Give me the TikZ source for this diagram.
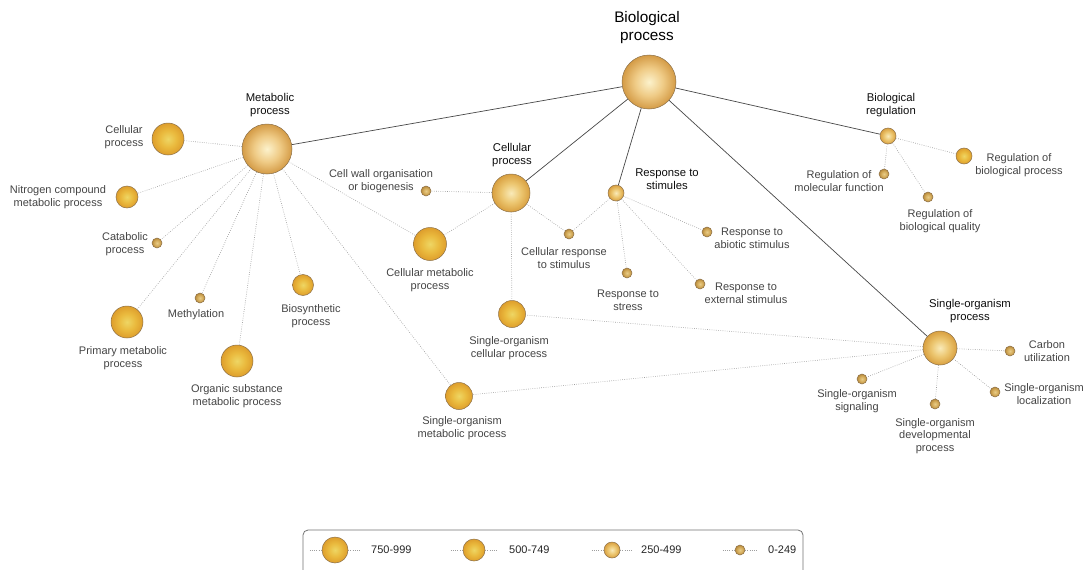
\documentclass[tikz,border=0pt]{standalone}
\usepackage{fontspec}
\setmainfont{Liberation Sans}
\definecolor{hubin}{HTML}{FCF2CC}
\definecolor{hubmid}{HTML}{EFCB86}
\definecolor{hubout}{HTML}{D49B46}
\definecolor{goldin}{HTML}{EED664}
\definecolor{goldmid}{HTML}{EABA3E}
\definecolor{goldout}{HTML}{DE9E2C}
\definecolor{palein}{HTML}{F9EAB8}
\definecolor{palemid}{HTML}{ECC670}
\definecolor{paleout}{HTML}{D9A040}
\definecolor{smallin}{HTML}{E8CC88}
\definecolor{smallmid}{HTML}{D6AE5E}
\definecolor{smallout}{HTML}{B88A3A}
\definecolor{rim}{HTML}{8C7048}
\definecolor{leaftext}{HTML}{454545}
% stops: the node outline sits at 25bp
\pgfdeclareradialshading{orbhub}{\pgfpoint{0bp}{0bp}}{color(0bp)=(hubin); color(13bp)=(hubmid); color(25bp)=(hubout); color(50bp)=(hubout)}
\pgfdeclareradialshading{orbgold}{\pgfpoint{0bp}{0bp}}{color(0bp)=(goldin); color(13bp)=(goldmid); color(25bp)=(goldout); color(50bp)=(goldout)}
\pgfdeclareradialshading{orbpale}{\pgfpoint{0bp}{0bp}}{color(0bp)=(palein); color(13bp)=(palemid); color(25bp)=(paleout); color(50bp)=(paleout)}
\pgfdeclareradialshading{orbsmall}{\pgfpoint{0bp}{0bp}}{color(0bp)=(smallin); color(13bp)=(smallmid); color(25bp)=(smallout); color(50bp)=(smallout)}
\tikzset{
  orb/.style={circle, inner sep=0pt, draw=rim, line width=0.5pt, minimum size=#1},
  hubball/.style={orb=#1, shading=orbhub},
  goldball/.style={orb=#1, shading=orbgold},
  paleball/.style={orb=#1, shading=orbpale},
  smallball/.style={orb=10pt, shading=orbsmall},
  mainlink/.style={draw=black!72, line width=0.7pt},
  sublink/.style={draw=black!38, line width=0.6pt, dash pattern=on 0.7pt off 1.5pt},
  leaflab/.style={align=center, text=leaftext, font=\fontsize{11}{12.8}\selectfont, inner sep=0pt},
  hublab/.style={align=center, text=black!95, font=\fontsize{11.3}{12.8}\selectfont, inner sep=0pt},
  toplab/.style={align=center, text=black, font=\fontsize{15.3}{18}\selectfont, inner sep=0pt},
  keylab/.style={anchor=west, text=black!85, font=\fontsize{11}{12.8}\selectfont, inner sep=0pt},
}
\begin{document}
\begin{tikzpicture}[x=1pt,y=-1pt]
\useasboundingbox[fill=white] (0,0) rectangle (1087,570);

% ---- hubs
\node[hubball=54pt]  (bp)   at (649,82)  {};
\node[hubball=50pt]  (met)  at (267,149) {};
\node[paleball=38pt] (cel)  at (511,193) {};
\node[paleball=16pt] (rts)  at (616,193) {};
\node[paleball=16pt] (breg) at (888,136) {};
\node[paleball=34pt] (sop)  at (940,348) {};

% ---- metabolic process branch
\node[goldball=32pt] (celp)  at (168,139) {};
\node[goldball=22pt] (nitro) at (127,197) {};
\node[smallball]     (cata)  at (157,243) {};
\node[goldball=32pt] (prim)  at (127,322) {};
\node[smallball]     (methy) at (200,298) {};
\node[goldball=32pt] (orga)  at (237,361) {};
\node[goldball=21pt] (biosy) at (303,285) {};
\node[goldball=33pt] (cmet)  at (430,244) {};
\node[goldball=27pt] (smet)  at (459,396) {};

% ---- cellular process branch
\node[smallball]     (cwall) at (426,191) {};
\node[smallball]     (cresp) at (569,234) {};
\node[goldball=27pt] (scel)  at (512,314) {};

% ---- response to stimulus branch
\node[smallball] (rstress) at (627,273) {};
\node[smallball] (rabio)   at (707,232) {};
\node[smallball] (rext)    at (700,284) {};

% ---- biological regulation branch
\node[goldball=16pt] (rbp)  at (964,156) {};
\node[smallball]     (rmf)  at (884,174) {};
\node[smallball]     (rbq)  at (928,197) {};

% ---- single-organism process branch
\node[smallball] (carb) at (1010,351) {};
\node[smallball] (sig)  at (862,379) {};
\node[smallball] (dev)  at (935,404) {};
\node[smallball] (loc)  at (995,392) {};

% ---- links
\foreach \t in {met,cel,rts,breg,sop} \draw[mainlink] (bp) -- (\t);
\foreach \t in {celp,nitro,cata,prim,methy,orga,biosy,cmet,smet} \draw[sublink] (met) -- (\t);
\foreach \t in {cwall,cmet,cresp,scel} \draw[sublink] (cel) -- (\t);
\foreach \t in {cresp,rstress,rabio,rext} \draw[sublink] (rts) -- (\t);
\foreach \t in {rbp,rmf,rbq} \draw[sublink] (breg) -- (\t);
\foreach \t in {carb,sig,dev,loc,scel,smet} \draw[sublink] (sop) -- (\t);

% ---- labels
\node[toplab] (t-bp)   at (647,28)  {Biological\\process};
\node[hublab] (t-met)  at (270,105) {Metabolic\\process};
\node[hublab] (t-cel)  at (512,155) {Cellular\\process};
\node[hublab] (t-rts)  at (667,179) {Response to\\stimules};
\node[hublab] (t-breg) at (891,105) {Biological\\regulation};
\node[hublab] (t-sop)  at (970,311) {Single-organism\\process};

\node[leaflab] (t-celp)  at (124,137) {Cellular\\process};
\node[leaflab] (t-nitro) at (58,197)  {Nitrogen compound\\metabolic process};
\node[leaflab] (t-cata)  at (125,244) {Catabolic\\process};
\node[leaflab] (t-prim)  at (123,358) {Primary metabolic\\process};
\node[leaflab] (t-methy) at (196,315) {Methylation};
\node[leaflab] (t-orga)  at (237,396) {Organic substance\\metabolic process};
\node[leaflab] (t-biosy) at (311,316) {Biosynthetic\\process};
\node[leaflab] (t-cmet)  at (430,280) {Cellular metabolic\\process};
\node[leaflab] (t-smet)  at (462,428) {Single-organism\\metabolic process};
\node[leaflab] (t-cwall) at (381,181) {Cell wall organisation\\or biogenesis};
\node[leaflab] (t-cresp) at (564,258) {Cellular response\\to stimulus};
\node[leaflab] (t-scel)  at (509,348) {Single-organism\\cellular process};
\node[leaflab] (t-rstress) at (628,300) {Response to\\stress};
\node[leaflab] (t-rabio) at (752,238) {Response to\\abiotic stimulus};
\node[leaflab] (t-rext)  at (746,293) {Response to\\external stimulus};
\node[leaflab] (t-rbp)   at (1019,165) {Regulation of\\biological process};
\node[leaflab] (t-rmf)   at (839,181) {Regulation of\\molecular function};
\node[leaflab] (t-rbq)   at (940,221) {Regulation of\\biological quality};
\node[leaflab] (t-carb)  at (1047,351) {Carbon\\utilization};
\node[leaflab] (t-sig)   at (857,401) {Single-organism\\signaling};
\node[leaflab] (t-dev)   at (935,436) {Single-organism\\developmental\\process};
\node[leaflab] (t-loc)   at (1044,394) {Single-organism\\localization};

% ---- size key
\draw[draw=black!55, line width=0.8pt, rounded corners=5pt] (303,530) rectangle (803,585);
\node[goldball=26pt]  (k1) at (335,550) {};
\node[goldball=22pt]  (k2) at (474,550) {};
\node[paleball=16pt]  (k3) at (612,550) {};
\node[smallball]      (k4) at (740,550) {};
\foreach \k in {k1,k2,k3,k4} {
  \coordinate (\k-l) at ([xshift=-12pt]\k.west);
  \coordinate (\k-r) at ([xshift=12pt]\k.east);
  \draw[sublink] (\k-l) -- (\k.west);
  \draw[sublink] (\k.east) -- (\k-r);
}
\node[keylab] (k1t) at (371,550) {750-999};
\node[keylab] (k2t) at (509,550) {500-749};
\node[keylab] (k3t) at (641,550) {250-499};
\node[keylab] (k4t) at (768,550) {0-249};
\end{tikzpicture}
\end{document}
